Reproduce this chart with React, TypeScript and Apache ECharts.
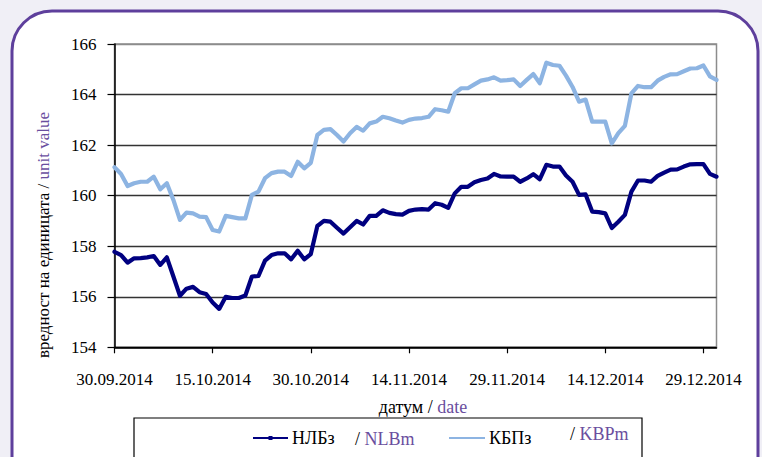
import React, { useEffect, useRef } from "react";
import * as echarts from "echarts";

const START_DATE = new Date(2014, 8, 30);
const DAY_COUNT = 93;
const categories: string[] = [];
for (let i = 0; i < DAY_COUNT; i++) {
  const d = new Date(START_DATE.getFullYear(), START_DATE.getMonth(), START_DATE.getDate() + i);
  const dd = String(d.getDate()).padStart(2, "0");
  const mm = String(d.getMonth() + 1).padStart(2, "0");
  categories.push(`${dd}.${mm}.${d.getFullYear()}`);
}

const nlbValues = [
  157.78, 157.65, 157.35, 157.52, 157.53, 157.56, 157.61, 157.26, 157.56, 156.8,
  156.04, 156.32, 156.39, 156.18, 156.11, 155.77, 155.52, 156.0, 155.95, 155.95,
  156.05, 156.8, 156.82, 157.43, 157.65, 157.72, 157.72, 157.48, 157.82, 157.48,
  157.69, 158.8, 159.0, 158.97, 158.73, 158.5, 158.75, 159.0, 158.86, 159.2,
  159.2, 159.42, 159.32, 159.27, 159.25, 159.4, 159.45, 159.47, 159.45, 159.7,
  159.64, 159.52, 160.09, 160.35, 160.35, 160.53, 160.62, 160.68, 160.86, 160.76,
  160.75, 160.75, 160.55, 160.68, 160.85, 160.65, 161.22, 161.15, 161.15, 160.8,
  160.55, 160.03, 160.05, 159.37, 159.35, 159.3, 158.72, 158.97, 159.24, 160.16,
  160.6, 160.6, 160.55, 160.78, 160.91, 161.03, 161.04, 161.15, 161.24, 161.25,
  161.25, 160.86, 160.75,
];

const kbpValues = [
  161.12, 160.86, 160.38, 160.49, 160.55, 160.55, 160.75, 160.25, 160.49, 159.83,
  159.04, 159.33, 159.3, 159.17, 159.15, 158.64, 158.58, 159.2, 159.15, 159.1,
  159.1, 160.03, 160.16, 160.69, 160.89, 160.95, 160.95, 160.78, 161.34, 161.08,
  161.3, 162.4, 162.6, 162.63, 162.4, 162.14, 162.47, 162.72, 162.57, 162.86,
  162.93, 163.12, 163.06, 162.97, 162.89, 163.0, 163.05, 163.07, 163.12, 163.42,
  163.38, 163.32, 164.05, 164.25, 164.25, 164.4, 164.55, 164.6, 164.68, 164.55,
  164.57, 164.6, 164.34, 164.58, 164.81, 164.45, 165.26, 165.17, 165.14, 164.75,
  164.3, 163.72, 163.8, 162.93, 162.93, 162.93, 162.07, 162.47, 162.76, 164.05,
  164.34, 164.29, 164.29, 164.55, 164.7, 164.8, 164.81, 164.92, 165.03, 165.04,
  165.15, 164.72, 164.58,
];

const Y_MIN = 154;
const Y_MAX = 166;
const Y_STEP = 2;
const LABEL_EVERY = 15;

const NLB_NAME = "НЛБз";
const NLB_EN = "NLBm";
const KBP_NAME = "КБПз";
const KBP_EN = "KBPm";
const X_TITLE_BG = "датум / ";
const X_TITLE_EN = "date";
const Y_TITLE_BG = "вредност на единицата / ";
const Y_TITLE_EN = "unit value";

const DARK = "#000080";
const LIGHT = "#8DB4E2";
const PURPLE = "#6A4E9E";
const FONT = "serif";

export default function App() {
  const ref = useRef<HTMLDivElement>(null);
  useEffect(() => {
    if (!ref.current) return;
    const chart = echarts.init(ref.current, null, { renderer: "svg" });
    const showAt = (i: number) => i % LABEL_EVERY === 0;
    chart.setOption({
      animation: false,
      backgroundColor: "#F0EFF6",
      textStyle: { fontFamily: FONT },
      grid: { left: 114.5, top: 44, right: 45.5, bottom: 109.7, show: true, borderColor: "#8c8c8c", borderWidth: 1.5, backgroundColor: "transparent" },
      xAxis: {
        type: "category",
        data: categories,
        boundaryGap: false,
        axisLine: { lineStyle: { color: "#000", width: 1.5 } },
        axisTick: { show: true, interval: (i: number) => showAt(i), length: 6, lineStyle: { color: "#000", width: 1.2 } },
        axisLabel: { interval: (i: number) => showAt(i), color: "#000", fontSize: 17, fontFamily: FONT, margin: 24 },
        splitLine: { show: false },
      },
      yAxis: {
        type: "value",
        min: Y_MIN,
        max: Y_MAX,
        interval: Y_STEP,
        axisLine: { show: true, lineStyle: { color: "#000", width: 1.5 } },
        axisTick: { show: true, length: 7, lineStyle: { color: "#000", width: 1.2 } },
        axisLabel: { color: "#000", fontSize: 17, fontFamily: FONT, margin: 18 },
        splitLine: { lineStyle: { color: ["#000", "#333", "#333", "#333", "#333", "#333", "#8c8c8c"], width: 1.3 } },
      },
      series: [
        {
          name: KBP_NAME,
          type: "line",
          data: kbpValues,
          showSymbol: false,
          symbol: "none",
          lineStyle: { color: LIGHT, width: 4.2, join: "round", cap: "round" },
          itemStyle: { color: LIGHT },
        },
        {
          name: NLB_NAME,
          type: "line",
          data: nlbValues,
          showSymbol: false,
          symbol: "none",
          lineStyle: { color: DARK, width: 4.2, join: "round", cap: "round" },
          itemStyle: { color: DARK },
        },
      ],
      graphic: [
        {
          type: "rect",
          z: -10,
          silent: true,
          shape: { x: 12, y: 11, width: 746, height: 500, r: 40 },
          style: { fill: "#fff", stroke: "#5E3F9C", lineWidth: 3 },
        },
        {
          type: "text",
          x: 423,
          y: 407,
          style: {
            text: `{a|${X_TITLE_BG}}{b|${X_TITLE_EN}}`,
            align: "center",
            verticalAlign: "middle",
            rich: {
              a: { fontSize: 18, fontFamily: FONT, fill: "#000" },
              b: { fontSize: 18, fontFamily: FONT, fill: PURPLE },
            },
          },
        },
        {
          type: "text",
          x: 43,
          y: 235,
          rotation: Math.PI / 2,
          style: {
            text: `{a|${Y_TITLE_BG}}{b|${Y_TITLE_EN}}`,
            align: "center",
            verticalAlign: "middle",
            rich: {
              a: { fontSize: 17, fontFamily: FONT, fill: "#000" },
              b: { fontSize: 17, fontFamily: FONT, fill: PURPLE },
            },
          },
        },
        {
          type: "rect",
          shape: { x: 134, y: 418, width: 508, height: 60 },
          style: { fill: "#fff", stroke: "#000", lineWidth: 1.2 },
        },
        {
          type: "line",
          shape: { x1: 253, y1: 438, x2: 288, y2: 438 },
          style: { stroke: DARK, lineWidth: 2 },
        },
        {
          type: "rect",
          shape: { x: 268.5, y: 436, width: 4, height: 4 },
          style: { fill: DARK },
        },
        {
          type: "text",
          x: 292,
          y: 438,
          style: { text: NLB_NAME, fontSize: 18, fontFamily: FONT, fill: "#000", verticalAlign: "middle" },
        },
        {
          type: "text",
          x: 355,
          y: 439,
          style: {
            text: `{a|/ }{b|${NLB_EN}}`,
            verticalAlign: "middle",
            rich: {
              a: { fontSize: 18, fontFamily: FONT, fill: "#000" },
              b: { fontSize: 18, fontFamily: FONT, fill: PURPLE },
            },
          },
        },
        {
          type: "line",
          shape: { x1: 449, y1: 438, x2: 485, y2: 438 },
          style: { stroke: LIGHT, lineWidth: 2 },
        },
        {
          type: "text",
          x: 489,
          y: 438,
          style: { text: KBP_NAME, fontSize: 18, fontFamily: FONT, fill: "#000", verticalAlign: "middle" },
        },
        {
          type: "text",
          x: 570,
          y: 434,
          style: {
            text: `{a|/ }{b|${KBP_EN}}`,
            verticalAlign: "middle",
            rich: {
              a: { fontSize: 18, fontFamily: FONT, fill: "#000" },
              b: { fontSize: 18, fontFamily: FONT, fill: PURPLE },
            },
          },
        },
      ],
    });
    return () => chart.dispose();
  }, []);
  return <div ref={ref} style={{ position: "fixed", left: 0, top: 0, width: 762, height: 457 }} />;
}
